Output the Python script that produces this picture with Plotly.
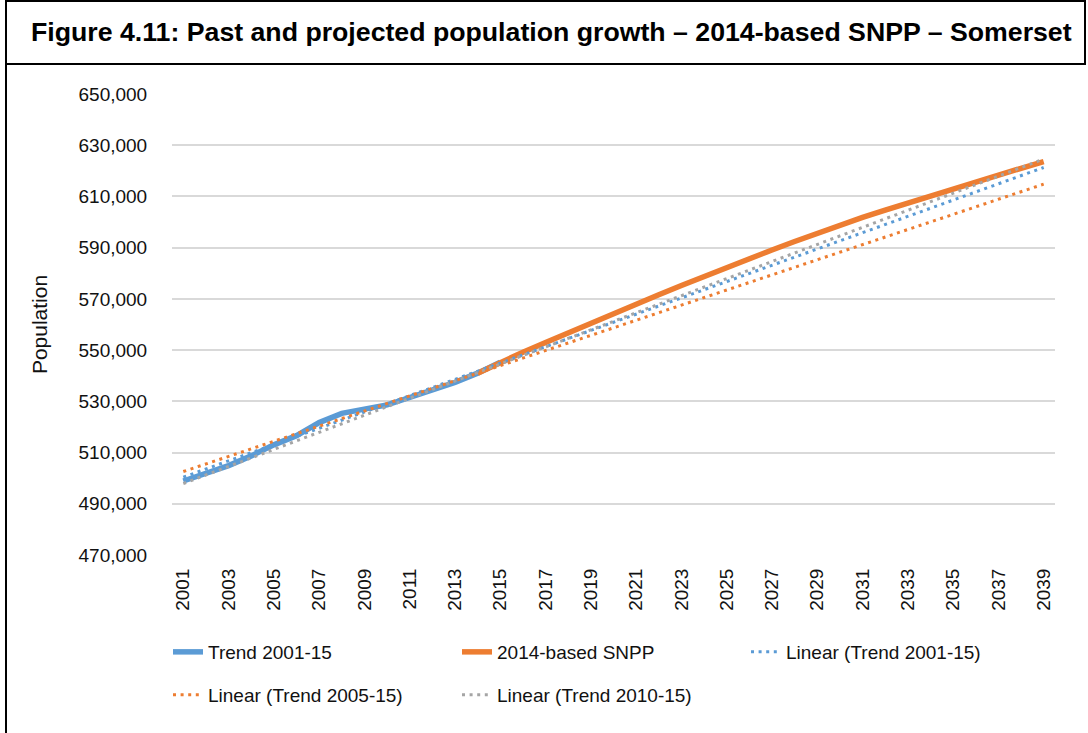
import plotly.graph_objects as go

# ---- data -----------------------------------------------------------------
years_trend = list(range(2001, 2016))
trend_2001_15 = [498900, 501800, 504900, 508700, 513000, 516600, 521700, 525300,
                 526800, 528600, 531500, 534500, 537400, 541000, 545300]

years_snpp = list(range(2014, 2040))
snpp_2014 = [541000, 545300, 549200, 553000, 556800, 560500, 564200, 567900,
             571600, 575200, 578800, 582300, 585800, 589100, 592400, 595700,
             598900, 601800, 604700, 607500, 610300, 613100, 615800, 618400,
             621000, 623600]

# linear trendlines, given by their values at the first and last year shown
trend_years = [2001, 2039]
linear_2001_15 = [500400, 621300]
linear_2005_15 = [502600, 614800]
linear_2010_15 = [497900, 624600]

y_ticks = list(range(470000, 650001, 20000))
x_ticks = list(range(2001, 2040, 2))

title = "Figure 4.11: Past and projected population growth \u2013 2014-based SNPP \u2013 Somerset"

# ---- styling --------------------------------------------------------------
BLUE = "#5B9BD5"
ORANGE = "#ED7D31"
GREY = "#A5A5A5"
FONT = "Liberation Sans"
W, H = 1088, 733
L, R, T, B = 172, 33, 94, 178
PW, PH = W - L - R, H - T - B


def px_x(px):
    return (px - L) / PW


def px_y(py):
    return (H - B - py) / PH


DOT = "3px,4.6px"

fig = go.Figure()
fig.add_trace(go.Scatter(x=years_trend, y=trend_2001_15, mode="lines",
                         name="Trend 2001-15", legend="legend",
                         line=dict(color=BLUE, width=5.5)))
fig.add_trace(go.Scatter(x=years_snpp, y=snpp_2014, mode="lines",
                         name="2014-based SNPP", legend="legend",
                         line=dict(color=ORANGE, width=5.5)))
fig.add_trace(go.Scatter(x=trend_years, y=linear_2001_15, mode="lines",
                         name="Linear (Trend 2001-15)", legend="legend",
                         line=dict(color=BLUE, width=3, dash=DOT)))
fig.add_trace(go.Scatter(x=trend_years, y=linear_2005_15, mode="lines",
                         name="Linear (Trend 2005-15)", legend="legend2",
                         line=dict(color=ORANGE, width=3, dash=DOT)))
fig.add_trace(go.Scatter(x=trend_years, y=linear_2010_15, mode="lines",
                         name="Linear (Trend 2010-15)", legend="legend2",
                         line=dict(color=GREY, width=3, dash=DOT)))

legend_common = dict(orientation="h", xref="paper", yref="paper",
                     xanchor="left", yanchor="middle",
                     entrywidth=244, entrywidthmode="pixels",
                     font=dict(family=FONT, size=19, color="#111111"),
                     bgcolor="rgba(0,0,0,0)", traceorder="normal")

fig.update_layout(
    width=W, height=H,
    margin=dict(l=L, r=R, t=T, b=B),
    paper_bgcolor="white", plot_bgcolor="white",
    font=dict(family=FONT, size=19, color="#111111"),
    showlegend=True,
    legend=dict(x=px_x(168), y=px_y(652), **legend_common),
    legend2=dict(x=px_x(168), y=px_y(695), **legend_common),
    xaxis=dict(range=[2000.5, 2039.5], tickmode="array", tickvals=x_ticks,
               ticktext=[str(v) for v in x_ticks], tickangle=-90,
               showgrid=False, zeroline=False, showline=False,
               ticks="outside", ticklen=5, tickcolor="rgba(0,0,0,0)",
               tickfont=dict(family=FONT, size=19, color="#111111")),
    yaxis=dict(range=[470000, 650000], tickmode="array", tickvals=y_ticks,
               tickformat=",d", showgrid=True, gridcolor="#D9D9D9", gridwidth=1.5,
               zeroline=False, showline=False,
               ticks="outside", ticklen=20, tickcolor="rgba(0,0,0,0)",
               tickfont=dict(family=FONT, size=19, color="#111111"),
               title=dict(text="Population", standoff=25,
                          font=dict(family=FONT, size=21, color="#111111"))),
    annotations=[dict(text="<b>" + title + "</b>", xref="paper", yref="paper",
                      x=px_x(551.5), y=px_y(32), xanchor="center", yanchor="middle",
                      showarrow=False,
                      font=dict(family=FONT, size=26.7, color="#000000"))],
    shapes=[
        dict(type="rect", xref="paper", yref="paper",
             x0=px_x(6), x1=px_x(1085), y0=px_y(1), y1=px_y(64),
             line=dict(color="black", width=2), layer="above"),
        dict(type="line", xref="paper", yref="paper",
             x0=px_x(6), x1=px_x(6), y0=px_y(64), y1=px_y(733),
             line=dict(color="black", width=2), layer="above"),
    ],
)

fig.write_html("out.html")
